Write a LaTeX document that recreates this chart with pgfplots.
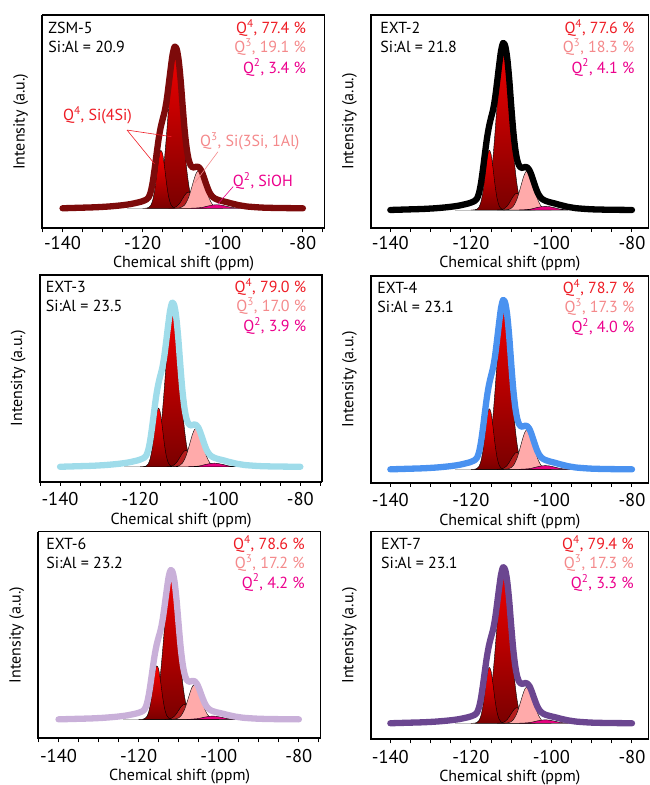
\documentclass[border=0pt]{standalone}
\usepackage{pgfplots}
\pgfplotsset{compat=1.18}
\usepackage{pgfplotstable}
\usepackage{fontspec}
\setmainfont{PT Sans}

\definecolor{qfour}{HTML}{EE1C25}
\definecolor{qthree}{HTML}{F4898B}
\definecolor{qtwo}{HTML}{EC008C}
\definecolor{pkAtop}{HTML}{FF0000}
\definecolor{pkAbot}{HTML}{7A0000}
\definecolor{pkBtop}{HTML}{F00000}
\definecolor{pkBbot}{HTML}{7A0000}
\definecolor{pkC}{HTML}{B51E1E}
\definecolor{pkD}{HTML}{FFAAAA}
\definecolor{pkE}{HTML}{E6007E}
\definecolor{envZ}{HTML}{7D0A0A}
\definecolor{envB}{HTML}{000000}
\definecolor{envC}{HTML}{9FDCEA}
\definecolor{envD}{HTML}{4A92F0}
\definecolor{envE}{HTML}{C9B0D9}
\definecolor{envF}{HTML}{6B4690}

% fitted components, ppm vs intensity (peak of the spectrum = 1)
\pgfplotstableread{
x y
-120.0 0.000
-119.5 0.000
-119.0 0.001
-118.5 0.005
-118.0 0.017
-117.5 0.049
-117.0 0.113
-116.5 0.208
-116.0 0.306
-115.5 0.358
-115.0 0.335
-114.5 0.249
-114.0 0.148
-113.5 0.070
-113.0 0.026
-112.5 0.008
-112.0 0.002
-111.5 0.000
}\pkA

\pgfplotstableread{
x y
-119.0 0.000
-118.5 0.001
-118.0 0.002
-117.5 0.006
-117.0 0.014
-116.5 0.030
-116.0 0.062
-115.5 0.116
-115.0 0.200
-114.5 0.318
-114.0 0.467
-113.5 0.632
-113.0 0.788
-112.5 0.905
-112.0 0.958
-111.5 0.935
-111.0 0.841
-110.5 0.697
-110.0 0.533
-109.5 0.375
-109.0 0.243
-108.5 0.145
-108.0 0.080
-107.5 0.041
-107.0 0.019
-106.5 0.008
-106.0 0.003
-105.5 0.001
-105.0 0.000
}\pkB

\pgfplotstableread{
x y
-113.5 0.000
-113.0 0.001
-112.5 0.002
-112.0 0.005
-111.5 0.012
-111.0 0.023
-110.5 0.040
-110.0 0.061
-109.5 0.081
-109.0 0.096
-108.5 0.100
-108.0 0.091
-107.5 0.073
-107.0 0.052
-106.5 0.032
-106.0 0.018
-105.5 0.009
-105.0 0.004
-104.5 0.001
-104.0 0.000
}\pkC

\pgfplotstableread{
x y
-112.0 0.000
-111.5 0.001
-111.0 0.002
-110.5 0.005
-110.0 0.010
-109.5 0.021
-109.0 0.041
-108.5 0.069
-108.0 0.108
-107.5 0.151
-107.0 0.193
-106.5 0.224
-106.0 0.235
-105.5 0.224
-105.0 0.193
-104.5 0.151
-104.0 0.108
-103.5 0.069
-103.0 0.041
-102.5 0.021
-102.0 0.010
-101.5 0.005
-101.0 0.002
-100.5 0.001
-100.0 0.000
}\pkD

\pgfplotstableread{
x y
-108.0 0.000
-107.5 0.001
-107.0 0.001
-106.5 0.002
-106.0 0.003
-105.5 0.004
-105.0 0.006
-104.5 0.009
-104.0 0.012
-103.5 0.015
-103.0 0.017
-102.5 0.020
-102.0 0.021
-101.5 0.022
-101.0 0.021
-100.5 0.020
-100.0 0.017
-99.5 0.015
-99.0 0.012
-98.5 0.009
-98.0 0.006
-97.5 0.004
-97.0 0.003
-96.5 0.002
-96.0 0.001
-95.5 0.001
-95.0 0.000
}\pkE

% measured spectrum
\pgfplotstableread{
x y
-140.0 0.000
-136.0 0.003
-132.0 0.006
-129.0 0.010
-127.0 0.014
-125.0 0.019
-123.0 0.026
-121.5 0.034
-120.5 0.040
-120.0 0.044
-119.5 0.049
-119.0 0.055
-118.5 0.068
-118.0 0.100
-117.5 0.160
-117.0 0.245
-116.5 0.340
-116.0 0.430
-115.5 0.500
-115.0 0.552
-114.5 0.600
-114.0 0.670
-113.5 0.765
-113.0 0.865
-112.5 0.955
-112.0 1.000
-111.5 0.985
-111.0 0.915
-110.5 0.790
-110.0 0.630
-109.5 0.480
-109.0 0.370
-108.5 0.300
-108.0 0.265
-107.5 0.252
-107.0 0.254
-106.5 0.258
-106.0 0.255
-105.5 0.240
-105.0 0.212
-104.5 0.176
-104.0 0.140
-103.5 0.108
-103.0 0.085
-102.5 0.070
-102.0 0.061
-101.5 0.055
-101.0 0.051
-100.5 0.047
-100.0 0.044
-99.0 0.038
-98.0 0.031
-97.0 0.025
-96.0 0.019
-95.0 0.015
-94.0 0.011
-92.0 0.007
-90.0 0.004
-87.0 0.002
-84.0 0.001
-80.0 0.000
}\spec

\newcommand{\tfont}{\fontsize{16}{19}\selectfont}

\pgfplotsset{
  nmr/.style={
    scale only axis,
    anchor=north west,
    clip=false,
    axis line style={line width=1.2pt},
    xtick={-140,-120,-100,-80},
    xticklabels={-140,-120,-100,-80},
    minor xtick={-145,-135,-130,-125,-115,-110,-105,-95,-90,-85,-75},
    ytick=\empty,
    tick align=outside,
    xtick pos=left,
    major tick length=4pt,
    minor tick length=4pt,
    every tick/.style={black, line width=1pt},
    xticklabel style={font=\fontsize{18.5}{22}\selectfont, inner sep=0pt},
    xlabel={Chemical shift (ppm)},
    ylabel={Intensity (a.u.)},
    xlabel style={font=\fontsize{16}{19}\selectfont, inner sep=0pt,
      at={(axis description cs:0.5,0)}, anchor=north},
    ylabel style={font=\fontsize{16}{19}\selectfont, inner sep=0pt,
      at={(axis description cs:-0.05,0.5)}, anchor=south},
  },
  toprow/.style={xticklabel style={yshift=-4pt}, xlabel style={yshift=-28pt}},
  lowrow/.style={xticklabel style={yshift=-6.5pt}, xlabel style={yshift=-31pt}},
  leftcol/.style={nmr, width=282pt, xmin=-145, xmax=-74.6},
  rightcol/.style={nmr, width=277.5pt, xmin=-144.8, xmax=-75.9},
  spectrum/.style={smooth, line width=6.3pt, line join=round, line cap=round},
  peak/.style={smooth, draw=black, line width=0.4pt},
}

\newcommand{\components}{%
  \addplot[gray!50, line width=0.8pt] coordinates {(-124,0) (-96,0)};
  \addplot[peak, top color=pkBtop, bottom color=pkBbot] table {\pkB} \closedcycle;
  \addplot[peak, top color=pkAtop, bottom color=pkAbot] table {\pkA} \closedcycle;
  \addplot[peak, fill=pkC] table {\pkC} \closedcycle;
  \addplot[peak, fill=pkD] table {\pkD} \closedcycle;
  \addplot[peak, fill=pkE] table {\pkE} \closedcycle;
}

\newcommand{\frameline}{%
  \draw[line width=2pt] (rel axis cs:0,1) -- (rel axis cs:0,0) -- (rel axis cs:1,0);
}

% name, Si:Al, Q4, Q3, Q2, left x, right x
\newcommand{\panellabels}[7]{%
  \node[anchor=base west, inner sep=0pt, font=\tfont] at (rel axis cs:#6,0.913) {#1};
  \node[anchor=base west, inner sep=0pt, font=\tfont] at (rel axis cs:#6,0.823) {Si:Al = #2};
  \node[anchor=base east, inner sep=0pt, font=\tfont, text=qfour] at (rel axis cs:#7,0.913) {Q\textsuperscript{4}, #3 \%};
  \node[anchor=base east, inner sep=0pt, font=\tfont, text=qthree] at (rel axis cs:#7,0.823) {Q\textsuperscript{3}, #4 \%};
  \node[anchor=base east, inner sep=0pt, font=\tfont, text=qtwo] at (rel axis cs:#7,0.727) {Q\textsuperscript{2}, #5 \%};
}

\begin{document}
\begin{tikzpicture}
\useasboundingbox (0,0) rectangle (649pt,-785pt);

% ZSM-5
\begin{axis}[leftcol, toprow, at={(42.5pt,-15pt)}, height=213.3pt, ymin=-0.124, ymax=1.196]
\components
\addplot[spectrum, color=envZ] table {\spec};
\frameline
\panellabels{ZSM-5}{20.9}{77.4}{19.1}{3.4}{0.02}{0.935}
\draw[qfour, line width=0.6pt] (axis cs:-123.9,0.484) -- (axis cs:-117.0,0.274);
\draw[qfour, line width=0.6pt] (axis cs:-123.9,0.484) -- (axis cs:-112.8,0.443);
\node[anchor=base west, inner sep=0pt, font=\tfont, text=qfour] at (axis cs:-139.9,0.542) {Q\textsuperscript{4}, Si(4Si)};
\draw[qthree, line width=0.6pt] (axis cs:-101.2,0.350) -- (axis cs:-107.0,0.156);
\node[anchor=base west, inner sep=0pt, font=\tfont, text=qthree] at (axis cs:-105.7,0.381) {Q\textsuperscript{3}, Si(3Si, 1Al)};
\draw[qtwo, line width=0.6pt] (axis cs:-97.4,0.134) -- (axis cs:-101.2,0.027);
\node[anchor=base west, inner sep=0pt, font=\tfont, text=qtwo] at (axis cs:-97.5,0.134) {Q\textsuperscript{2}, SiOH};
\end{axis}

% EXT-2
\begin{axis}[rightcol, toprow, at={(371pt,-15pt)}, height=213pt, ymin=-0.108, ymax=1.168]
\components
\addplot[spectrum, color=envB] table {\spec};
\frameline
\panellabels{EXT-2}{21.8}{77.6}{18.3}{4.1}{0.033}{0.95}
\end{axis}

% EXT-3
\begin{axis}[leftcol, lowrow, at={(40pt,-275pt)}, height=206.7pt, ymin=-0.091, ymax=1.169]
\components
\addplot[spectrum, color=envC] table {\spec};
\frameline
\panellabels{EXT-3}{23.5}{79.0}{17.0}{3.9}{0.02}{0.945}
\end{axis}

% EXT-4
\begin{axis}[rightcol, lowrow, at={(371pt,-276pt)}, height=206.7pt, ymin=-0.079, ymax=1.142]
\components
\addplot[spectrum, color=envD] table {\spec};
\frameline
\panellabels{EXT-4}{23.1}{78.7}{17.3}{4.0}{0.022}{0.95}
\end{axis}

% EXT-6
\begin{axis}[leftcol, lowrow, at={(38.5pt,-531.7pt)}, height=206.6pt, ymin=-0.127, ymax=1.257]
\components
\addplot[spectrum, color=envE] table {\spec};
\frameline
\panellabels{EXT-6}{23.2}{78.6}{17.2}{4.2}{0.027}{0.945}
\end{axis}

% EXT-7
\begin{axis}[rightcol, lowrow, at={(371pt,-531.7pt)}, height=207.6pt, ymin=-0.103, ymax=1.228]
\components
\addplot[spectrum, color=envF] table {\spec};
\frameline
\panellabels{EXT-7}{23.1}{79.4}{17.3}{3.3}{0.036}{0.948}
\end{axis}
\end{tikzpicture}
\end{document}
